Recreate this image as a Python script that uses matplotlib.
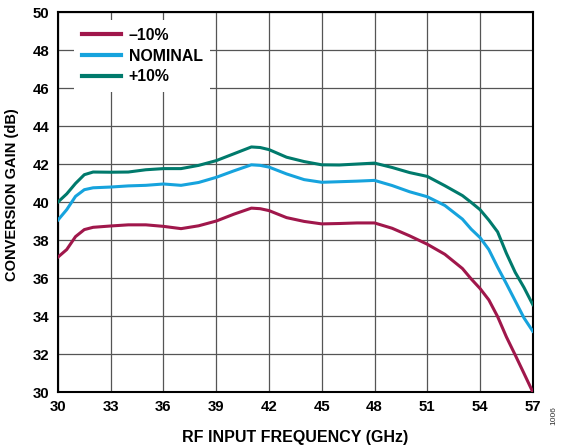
import matplotlib
matplotlib.use('Agg')
import matplotlib.pyplot as plt

plt.rcParams['font.family'] = ['Liberation Sans', 'DejaVu Sans']
plt.rcParams['font.weight'] = 'bold'

freq = [30, 30.5, 31, 31.5, 32, 33, 34, 35, 36, 37, 38, 39, 40, 41, 41.5, 42, 43, 44, 45,
        46, 47, 48, 49, 50, 51, 52, 53, 53.5, 54, 54.5, 55, 55.5, 56, 56.5, 57]
gain_minus = [37.1, 37.5, 38.18, 38.55, 38.67, 38.74, 38.8, 38.8, 38.72, 38.6, 38.75, 39.0, 39.36,
              39.68, 39.65, 39.55, 39.18, 38.98, 38.85, 38.87, 38.9, 38.9, 38.62, 38.22, 37.78,
              37.25, 36.5, 35.95, 35.45, 34.85, 33.97, 32.9, 31.95, 30.98, 30.0]
gain_nom = [39.05, 39.6, 40.3, 40.65, 40.75, 40.79, 40.85, 40.88, 40.95, 40.88, 41.03, 41.3, 41.64,
            41.96, 41.93, 41.84, 41.48, 41.18, 41.04, 41.07, 41.1, 41.14, 40.87, 40.54, 40.28,
            39.82, 39.1, 38.57, 38.13, 37.5, 36.57, 35.7, 34.8, 33.9, 33.2]
gain_plus = [40.0, 40.43, 40.98, 41.44, 41.58, 41.57, 41.58, 41.7, 41.76, 41.76, 41.93, 42.18, 42.54,
             42.9, 42.87, 42.76, 42.36, 42.13, 41.96, 41.95, 42.0, 42.05, 41.82, 41.55, 41.35,
             40.86, 40.34, 39.98, 39.6, 39.05, 38.43, 37.3, 36.3, 35.5, 34.6]
labels = ['\u201310%', 'NOMINAL', '+10%']
colors = ['#A0174B', '#16A3DD', '#007A6C']

fig = plt.figure(figsize=(5.68, 4.47), dpi=100)
ax = fig.add_axes([0.102, 0.123, 0.836, 0.850])

for y, lab, c in zip([gain_minus, gain_nom, gain_plus], labels, colors):
    ax.plot(freq, y, color=c, linewidth=2.2, label=lab, zorder=3)

ax.set_xlim(30, 57)
ax.set_ylim(30, 50)
ax.set_xticks(range(30, 58, 3))
ax.set_yticks(range(30, 51, 2))
ax.grid(True, color='#555555', linewidth=0.9)
ax.set_axisbelow(True)
ax.tick_params(length=0, labelsize=10.8, pad=6)
for s in ax.spines.values():
    s.set_linewidth(1.5)
    s.set_color('black')

ax.set_xlabel('RF INPUT FREQUENCY (GHz)', fontsize=11.5, fontweight='bold', labelpad=11)
ax.set_ylabel('CONVERSION GAIN (dB)', fontsize=10.5, fontweight='bold')
ax.yaxis.set_label_coords(-0.083, 0.52)

leg = ax.legend(loc='upper left', bbox_to_anchor=(0.017, 1.0), frameon=True, fancybox=False,
                edgecolor='none', facecolor='white', framealpha=1, fontsize=11.4,
                handlelength=2.45, handletextpad=0.5, labelspacing=0.36, borderpad=0.5)
for line in leg.get_lines():
    line.set_linewidth(3)

fig.text(0.975, 0.07, '1006', rotation=90, fontsize=6, fontweight='normal', color='#333333',
         ha='center', va='center')

fig.savefig('out.png', dpi=100)
